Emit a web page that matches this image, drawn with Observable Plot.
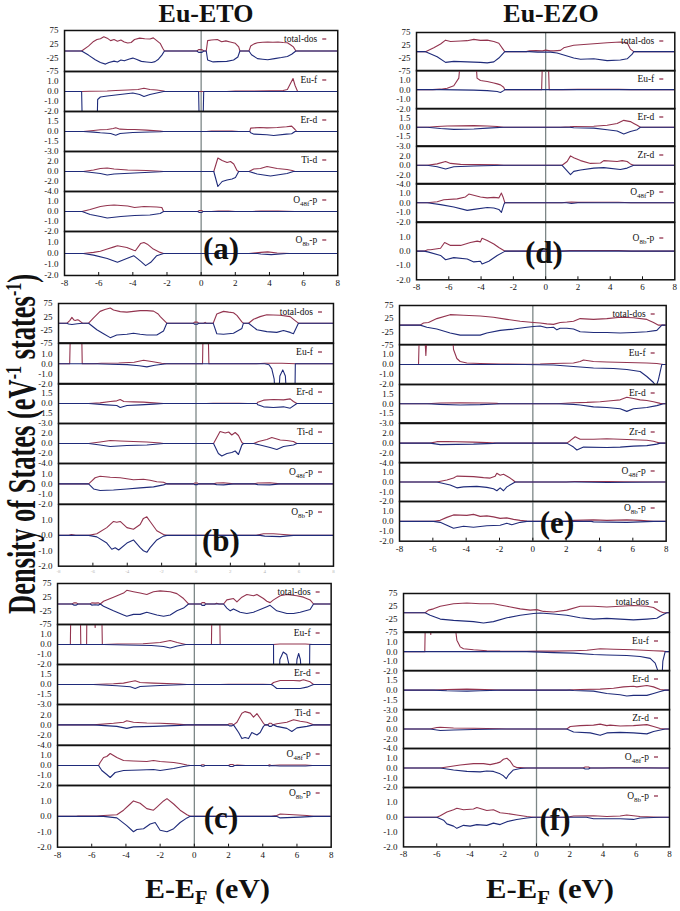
<!DOCTYPE html>
<html><head><meta charset="utf-8">
<script src="https://cdn.jsdelivr.net/npm/d3@7"></script>
<script src="https://cdn.jsdelivr.net/npm/@observablehq/plot@0.6"></script>
<style>
html,body{margin:0;padding:0;background:#fff;}
#chart{position:relative;width:680px;height:911px;overflow:hidden;background:#fff;}
#chart svg{position:absolute;}
</style></head><body><div id="chart"></div>
<script>
// ---------- tick values / categories ----------
const energyTicks = [-8,-6,-4,-2,0,2,4,6,8];
const innerTicks = [-6,-4,-2,0,2,4,6];
const yDomains = [[-75,75],[-2,2],[-3,3],[-4,4],[-2,2],[-2,2]];
const yTicks = [[75,25,-25,-75],[1,0,-1,-2],[1.5,0,-1.5,-3],[2,0,-2,-4],[1,0,-1,-2],[1,0,-1,-2]];
const etoNames = ["total-dos","Eu-f","Er-d","Ti-d","O|48f|-p","O|8b|-p"];
const ezoNames = ["total-dos","Eu-f","Er-d","Zr-d","O|48f|-p","O|8b|-p"];
const panelLetters = ["(a)","(b)","(c)","(d)","(e)","(f)"];

// ---------- panel (a) ----------
const aTotUp=[[-7.0,0],[-6.6,18],[-6.3,35],[-6.1,42],[-5.9,45],[-5.7,52],[-5.5,47],[-5.3,38],[-5.1,42],[-4.9,36],[-4.7,40],[-4.5,33],[-4.3,29],[-4.1,31],[-3.9,42],[-3.6,47],[-3.3,45],[-3.0,44],[-2.8,48],[-2.6,38],[-2.4,28],[-2.25,10],[-2.15,0],[-0.25,0],[-0.15,5],[0.05,5],[0.15,0],[0.3,0],[0.38,38],[0.6,40],[0.95,42],[1.2,34],[1.45,37],[1.7,33],[2.0,28],[2.2,15],[2.27,0],[2.8,0],[2.9,18],[3.1,26],[3.3,30],[3.6,32],[3.9,33],[4.2,32],[4.5,33],[4.8,31],[5.05,30],[5.25,22],[5.4,15],[5.55,0]];
const aTotDn=[[-7.0,0],[-6.6,-15],[-6.2,-32],[-5.9,-42],[-5.6,-48],[-5.4,-42],[-5.1,-37],[-4.9,-40],[-4.7,-33],[-4.5,-36],[-4.2,-29],[-4.0,-26],[-3.8,-30],[-3.5,-38],[-3.2,-40],[-2.9,-42],[-2.7,-39],[-2.5,-30],[-2.3,-15],[-2.15,0],[-0.25,0],[-0.15,-5],[0.05,-5],[0.15,0],[0.3,0],[0.38,-33],[0.7,-40],[1.0,-39],[1.5,-38],[1.9,-33],[2.15,-22],[2.27,0],[2.8,0],[2.95,-14],[3.3,-28],[3.6,-30],[3.9,-32],[4.3,-28],[4.7,-24],[5.05,-20],[5.3,-12],[5.55,0]];
const aEuUp=[[-7.0,0],[-6.5,0.03],[-5.5,0.05],[-5.0,0.1],[-4.3,0.15],[-3.7,0.2],[-3.35,0.32],[-3.0,0.2],[-2.6,0.15],[-2.2,0.05],[-2.1,0],[1.5,0],[2.0,0.05],[3.0,0.05],[4.0,0.08],[4.8,0.1],[5.05,0.2],[5.23,0.8],[5.38,1.3],[5.5,0.6],[5.65,0]];
const aEuDn=[[-7.0,0],[-6.95,-4],[-6.1,-4],[-6.06,-0.8],[-5.9,-0.55],[-5.5,-0.45],[-5.0,-0.35],[-4.5,-0.25],[-4.0,-0.15],[-3.6,-0.3],[-3.35,-0.5],[-3.0,-0.3],[-2.6,-0.15],[-2.2,0],[-0.15,0],[-0.1,-4],[0.1,-4],[0.15,0]];
const aErUp=[[-6.9,0],[-6.3,0.15],[-5.9,0.25],[-5.5,0.3],[-5.15,0.45],[-5.0,0.55],[-4.75,0.35],[-4.3,0.3],[-3.9,0.3],[-3.2,0.2],[-2.4,0.05],[-2.2,0],[0.3,0],[0.6,0.05],[1.8,0.05],[2.2,0],[2.85,0],[2.9,0.5],[3.45,0.6],[3.85,0.55],[4.45,0.6],[5.0,0.7],[5.3,0.8],[5.5,0.3],[5.6,0]];
const aErDn=[[-6.9,0],[-6.3,-0.1],[-5.9,-0.2],[-5.3,-0.3],[-5.0,-0.55],[-4.75,-0.3],[-4.0,-0.15],[-3.0,-0.08],[-2.4,-0.05],[-2.2,0],[2.85,0],[2.9,-0.2],[3.1,-0.4],[3.85,-0.5],[4.25,-0.6],[5.0,-0.4],[5.3,-0.35],[5.5,0]];
const aTiUp=[[-6.9,0],[-6.3,0.3],[-5.9,0.6],[-5.5,0.7],[-5.1,0.5],[-4.3,0.3],[-3.2,0.2],[-2.4,0.05],[-2.2,0],[0.74,0],[0.98,2.7],[1.23,2.2],[1.52,1.8],[1.72,2.0],[1.91,1.5],[2.1,0.2],[2.2,0],[2.8,0],[3.08,0.5],[3.47,0.6],[3.86,1.0],[4.45,0.6],[5.03,0.4],[5.33,0.2],[5.5,0]];
const aTiDn=[[-6.9,0],[-5.9,-0.4],[-5.5,-0.7],[-5.1,-0.5],[-3.9,-0.3],[-2.4,-0.05],[-2.2,0],[0.74,0],[0.98,-3.0],[1.23,-2.0],[1.52,-1.7],[1.81,-1.5],[2.01,-1.2],[2.2,0],[2.8,0],[3.28,-0.5],[3.86,-0.8],[4.06,-0.9],[4.64,-0.6],[5.03,-0.4],[5.4,0]];
const aO48Up=[[-6.97,0],[-6.5,0.2],[-5.9,0.5],[-5.5,0.6],[-5.1,0.65],[-4.3,0.55],[-3.9,0.4],[-3.35,0.5],[-2.6,0.45],[-2.3,0.4],[-2.2,0],[-0.2,0],[-0.1,0.1],[0.05,0.1],[0.1,0],[0.6,0],[1.0,0.05],[1.6,0.05],[2.0,0],[3.0,0],[3.5,0.05],[4.5,0.05],[5.5,0]];
const aO48Dn=[[-6.97,0],[-6.5,-0.3],[-5.9,-0.5],[-5.5,-0.65],[-4.7,-0.5],[-3.9,-0.4],[-3.0,-0.35],[-2.4,-0.2],[-2.2,0],[-0.2,0],[-0.1,-0.1],[0.05,-0.1],[0.1,0]];
const aO8Up=[[-6.9,0],[-6.3,0.1],[-5.9,0.2],[-5.5,0.4],[-5.1,0.6],[-4.9,0.7],[-4.35,0.55],[-3.95,0.3],[-3.85,0.25],[-3.55,0.9],[-3.35,1.0],[-3.15,0.85],[-2.8,0.4],[-2.4,0.1],[-2.2,0],[2.8,0],[3.5,0.1],[3.9,0.15],[4.45,0.05],[5.2,0]];
const aO8Dn=[[-6.9,0],[-6.3,-0.15],[-5.5,-0.45],[-4.9,-0.8],[-4.5,-0.55],[-3.95,-0.2],[-3.55,-0.7],[-3.25,-1.1],[-2.95,-0.8],[-2.6,-0.2],[-2.2,0],[3.3,0],[3.5,-0.05],[4.1,-0.1],[5.0,0]];

// ---------- panel (b) ----------
const bTotUp=[[-7.5,0],[-7.35,10],[-7.22,22],[-7.1,12],[-7.03,10],[-6.9,13],[-6.84,12],[-6.7,5],[-6.6,0],[-6.25,0],[-5.96,20],[-5.58,45],[-5.3,52],[-4.99,58],[-4.8,50],[-4.41,44],[-4.02,42],[-3.64,45],[-3.25,48],[-2.86,48],[-2.47,46],[-2.2,35],[-2.08,25],[-1.7,0],[-0.15,0],[-0.08,4],[0.08,4],[0.15,0],[0.45,0],[0.53,3],[0.6,0],[1.0,0],[1.21,35],[1.6,45],[1.9,42],[2.18,40],[2.38,30],[2.67,5],[2.76,0],[3.06,0],[3.35,15],[3.73,25],[4.12,32],[4.5,31],[4.9,30],[5.48,25],[5.77,10],[5.96,0]];
const bTotDn=[[-7.5,0],[-7.42,-3],[-7.22,-5],[-6.9,-2],[-6.6,0],[-6.25,0],[-5.77,-25],[-5.38,-40],[-4.99,-55],[-4.61,-45],[-4.02,-42],[-3.64,-38],[-3.25,-42],[-2.86,-45],[-2.28,-45],[-1.89,-30],[-1.7,0],[-0.15,0],[-0.08,-4],[0.08,-4],[0.15,0],[1.0,0],[1.21,-40],[1.6,-42],[2.18,-38],[2.67,-20],[2.76,0],[3.06,0],[3.54,-25],[4.12,-32],[4.7,-35],[5.09,-28],[5.48,-35],[5.67,-40],[5.96,0]];
const bEuUp=[[-7.35,0],[-7.3,4],[-6.66,4],[-6.62,0],[-5.96,0],[-5.5,0.05],[-4.5,0.08],[-3.6,0.15],[-3.05,0.35],[-2.5,0.2],[-2.0,0.05],[-1.7,0],[0.38,0],[0.42,4],[0.7,4],[0.75,0],[3.5,0],[4.0,0.05],[5.0,0.05],[5.8,0]];
const bEuDn=[[-5.96,0],[-5.0,-0.05],[-4.0,-0.08],[-3.3,-0.2],[-2.86,-0.3],[-2.4,-0.15],[-1.7,0],[4.0,0],[4.25,-0.1],[4.41,-0.5],[4.55,-1.5],[4.62,-4],[4.78,-4],[4.88,-1.2],[5.05,-0.6],[5.2,-1.2],[5.3,-4],[5.75,-4],[5.78,0]];
const bErUp=[[-6.25,0],[-5.58,0.1],[-4.99,0.3],[-4.61,0.4],[-4.41,0.6],[-4.2,0.3],[-3.64,0.25],[-3.05,0.2],[-2.47,0.1],[-1.89,0],[0.6,0],[1.0,0.03],[2.5,0.03],[3.0,0],[3.54,0],[3.6,0.2],[3.93,0.5],[4.5,0.6],[5.09,0.55],[5.48,0.7],[5.67,0.3],[5.87,0]];
const bErDn=[[-6.25,0],[-5.2,-0.2],[-4.61,-0.3],[-4.41,-0.6],[-4.02,-0.3],[-3.25,-0.2],[-2.47,-0.1],[-1.89,0],[3.54,0],[3.6,-0.2],[3.93,-0.5],[4.5,-0.6],[5.09,-0.5],[5.48,-0.7],[5.87,0]];
const bTiUp=[[-6.25,0],[-5.58,0.3],[-4.99,0.6],[-4.41,0.5],[-3.64,0.4],[-2.86,0.3],[-2.08,0.1],[-1.89,0],[1.02,0],[1.21,1.2],[1.4,2.4],[1.7,2.1],[1.9,2.3],[2.08,1.7],[2.28,2.2],[2.47,1.6],[2.67,0.2],[2.76,0],[3.35,0],[3.64,0.4],[4.12,0.8],[4.41,1.2],[4.9,0.7],[5.28,0.6],[5.67,0.4],[5.87,0]];
const bTiDn=[[-6.25,0],[-5.58,-0.3],[-4.99,-0.6],[-4.02,-0.4],[-2.86,-0.3],[-1.89,0],[1.02,0],[1.3,-2.0],[1.5,-2.5],[1.8,-2.0],[2.08,-1.8],[2.28,-1.5],[2.47,-2.2],[2.67,-0.3],[2.76,0],[3.35,0],[3.73,-0.3],[4.31,-0.8],[4.7,-1.2],[5.09,-0.6],[5.67,-0.3],[5.87,0]];
const bO48Up=[[-6.25,0],[-6.06,0.3],[-5.87,0.6],[-5.58,0.75],[-4.99,0.65],[-4.41,0.6],[-3.64,0.4],[-3.06,0.45],[-2.67,0.35],[-2.28,0.2],[-1.89,0.15],[-1.7,0],[-0.15,0],[-0.08,0.08],[0.08,0.08],[0.15,0],[1.0,0],[1.2,0.08],[1.6,0.1],[2.2,0],[3.35,0],[3.6,0.08],[4.3,0.1],[4.9,0]];
const bO48Dn=[[-6.25,0],[-5.96,-0.5],[-5.58,-0.65],[-4.8,-0.6],[-4.02,-0.5],[-3.25,-0.4],[-2.47,-0.3],[-1.89,-0.1],[-1.7,0],[-0.15,0],[-0.08,-0.08],[0.08,-0.08],[0.15,0],[1.0,0],[1.2,-0.08],[1.6,-0.1],[2.2,0],[3.35,0],[3.6,-0.08],[4.3,-0.1],[4.9,0]];
const bO8Up=[[-7.4,0],[-7.25,0.05],[-7.0,0],[-6.25,0],[-5.77,0.1],[-5.19,0.5],[-4.8,0.9],[-4.61,0.85],[-4.41,0.9],[-4.02,0.5],[-3.64,0.4],[-3.25,0.7],[-3.06,1.1],[-2.86,1.2],[-2.67,0.9],[-2.28,0.3],[-1.89,0.05],[-1.7,0],[3.5,0],[3.93,0.1],[4.5,0.1],[5.09,0.05],[5.67,0]];
const bO8Dn=[[-6.25,0],[-5.77,-0.1],[-5.19,-0.5],[-4.9,-0.9],[-4.7,-0.8],[-4.5,-0.95],[-4.02,-0.5],[-3.64,-0.3],[-3.25,-0.8],[-3.06,-1.0],[-2.86,-1.1],[-2.67,-0.8],[-2.28,-0.3],[-1.89,-0.05],[-1.7,0],[3.73,0],[4.0,-0.05],[4.9,-0.08],[5.67,0]];

// ---------- panel (c) ----------
const cTotUp=[[-7.15,0],[-7.05,4],[-6.9,4],[-6.8,0],[-6.1,0],[-6.0,4],[-5.8,3],[-5.6,4],[-5.5,0],[-5.31,10],[-4.73,25],[-4.14,40],[-3.95,50],[-3.56,45],[-3.17,40],[-2.78,35],[-2.39,45],[-2.0,48],[-1.41,45],[-1.02,38],[-0.63,20],[-0.34,0],[0.38,0],[0.45,5],[0.6,5],[0.65,0],[1.2,0],[1.3,3],[1.45,0],[1.71,0],[1.9,15],[2.29,20],[2.49,8],[2.78,25],[3.07,35],[3.46,30],[3.66,35],[4.04,20],[4.24,10],[4.43,5],[4.63,15],[5.02,30],[5.41,35],[6.0,30],[6.38,25],[6.77,15],[6.97,0]];
const cTotDn=[[-7.15,0],[-7.05,-4],[-6.9,-4],[-6.8,0],[-6.1,0],[-6.0,-4],[-5.8,-3],[-5.6,-4],[-5.5,0],[-5.31,-8],[-4.73,-25],[-4.14,-40],[-3.95,-45],[-3.56,-38],[-3.17,-38],[-2.78,-30],[-2.19,-40],[-1.8,-45],[-1.41,-40],[-1.02,-25],[-0.63,-15],[-0.34,0],[0.38,0],[0.45,-5],[0.6,-5],[0.65,0],[1.71,0],[1.9,-15],[2.1,-25],[2.29,-18],[2.68,-30],[3.07,-35],[3.46,-30],[3.85,-20],[4.24,-10],[4.43,-5],[4.82,-25],[5.41,-35],[5.8,-35],[6.19,-30],[6.77,-20],[6.97,0]];
const cEuUp=[[-7.25,0],[-7.22,4],[-6.67,4],[-6.64,0],[-6.3,0],[-6.28,4],[-5.85,4],[-5.8,1.7],[-5.75,4],[-5.42,4],[-5.38,0],[-5.31,0],[-4.5,0.05],[-3.0,0.08],[-2.0,0.2],[-1.41,0.4],[-1.0,0.2],[-0.5,0],[1.0,0],[1.03,4],[1.48,4],[1.51,0],[4.6,0],[5.0,0.05],[6.5,0.05],[6.9,0]];
const cEuDn=[[-5.31,0],[-4.0,-0.05],[-2.5,-0.1],[-1.8,-0.2],[-1.41,-0.35],[-1.0,-0.15],[-0.5,0],[4.63,0],[4.64,-4],[4.95,-4],[5.0,-1.5],[5.2,-0.75],[5.4,-1.0],[5.6,-2.5],[5.75,-4],[5.92,-4],[6.0,-1.5],[6.1,-0.9],[6.2,-1.5],[6.3,-4],[6.73,-4],[6.75,0]];
const cErUp=[[-5.9,0],[-4.73,0.1],[-4.14,0.2],[-3.75,0.4],[-3.46,0.55],[-3.17,0.3],[-2.39,0.2],[-1.21,0.1],[-0.83,0.05],[-0.43,0],[1.5,0],[2.0,0.03],[4.0,0.03],[4.5,0],[4.63,0.3],[5.02,0.6],[5.8,0.6],[6.19,0.55],[6.38,0.7],[6.77,0.4],[6.97,0]];
const cErDn=[[-5.9,0],[-4.53,-0.2],[-3.75,-0.35],[-3.46,-0.6],[-3.17,-0.3],[-2.0,-0.15],[-0.83,-0.05],[-0.43,0],[4.5,0],[4.63,-0.2],[4.82,-0.6],[5.41,-0.6],[6.19,-0.6],[6.58,-0.4],[6.97,0]];
const cTiUp=[[-5.9,0],[-4.73,0.3],[-4.14,0.5],[-3.95,0.8],[-3.56,0.5],[-2.78,0.35],[-2.0,0.3],[-1.21,0.2],[-0.83,0.1],[-0.43,0],[1.95,0],[2.05,0.2],[2.2,0.2],[2.29,0],[2.49,0.5],[2.78,2.3],[2.97,2.6],[3.27,2.3],[3.46,1.5],[3.66,2.2],[3.85,1.3],[4.04,0.3],[4.14,0],[4.3,0],[4.38,0.3],[4.5,0.3],[4.6,0],[4.82,0.2],[5.41,0.5],[5.8,1.0],[6.19,0.7],[6.58,0.5],[6.97,0]];
const cTiDn=[[-5.9,0],[-4.53,-0.3],[-3.95,-0.7],[-3.56,-0.4],[-2.39,-0.3],[-0.83,-0.1],[-0.43,0],[1.95,0],[2.05,-0.2],[2.2,-0.2],[2.29,0],[2.59,-1.5],[2.78,-2.7],[2.97,-2.5],[3.17,-2.7],[3.36,-1.5],[3.66,-2.0],[3.85,-1.5],[4.04,-0.3],[4.14,0],[4.3,0],[4.38,-0.3],[4.5,-0.3],[4.6,0],[4.82,-0.3],[5.41,-0.7],[5.7,-1.3],[6.0,-0.6],[6.58,-0.3],[6.97,0]];
const cO48Up=[[-5.6,0],[-5.51,0.3],[-5.31,0.8],[-5.12,0.9],[-4.92,1.2],[-4.53,0.8],[-4.14,0.5],[-3.56,0.45],[-2.78,0.4],[-2.39,0.5],[-2.0,0.4],[-1.21,0.3],[-0.83,0.2],[-0.43,0.05],[-0.24,0],[0.38,0],[0.45,0.08],[0.55,0.08],[0.6,0],[2.0,0],[2.1,0.1],[2.25,0.1],[2.35,0],[2.5,0.05],[3.0,0],[4.3,0],[4.4,0.06],[4.5,0],[5.0,0.05],[6.5,0.05],[6.9,0]];
const cO48Dn=[[-5.6,0],[-5.41,-0.5],[-5.12,-0.9],[-4.92,-1.2],[-4.63,-0.7],[-4.14,-0.5],[-3.17,-0.45],[-2.39,-0.4],[-2.0,-0.5],[-1.21,-0.3],[-0.63,-0.1],[-0.24,0],[0.38,0],[0.45,-0.08],[0.55,-0.08],[0.6,0],[2.0,0],[2.1,-0.1],[2.25,-0.1],[2.35,0],[4.3,0],[4.4,-0.06],[4.5,0],[5.0,-0.05],[6.5,-0.05],[6.9,0]];
const cO8Up=[[-6.9,0],[-6.8,0.02],[-5.7,0.02],[-5.31,0.05],[-4.53,0.1],[-4.14,0.4],[-3.75,0.8],[-3.56,1.0],[-3.17,0.85],[-2.78,0.5],[-2.39,0.4],[-2.19,0.6],[-1.8,1.0],[-1.6,1.15],[-1.21,0.8],[-0.83,0.4],[-0.43,0.1],[-0.24,0],[4.5,0],[4.82,0.05],[5.02,0.15],[5.8,0.1],[6.58,0.05],[6.97,0]];
const cO8Dn=[[-5.31,0],[-4.53,-0.1],[-3.95,-0.6],[-3.56,-1.0],[-3.36,-0.85],[-2.97,-0.8],[-2.58,-0.5],[-2.29,-0.4],[-2.0,-0.9],[-1.6,-1.0],[-1.21,-0.8],[-0.83,-0.4],[-0.43,-0.1],[-0.24,0],[4.8,0],[5.02,-0.1],[6.19,-0.05],[6.97,0]];

// ---------- panel (d) ----------
const dTotUp=[[-7.44,0],[-6.93,15],[-6.51,30],[-6.2,45],[-5.89,40],[-5.27,42],[-4.86,43],[-4.45,48],[-4.04,44],[-3.62,45],[-3.21,40],[-2.9,33],[-2.59,5],[-2.53,0],[-1.2,0],[-1.0,3],[-0.6,4],[-0.2,3],[0.0,6],[0.3,3],[0.51,3],[0.71,4],[0.92,5],[1.12,15],[1.74,25],[2.78,30],[3.81,35],[4.63,38],[5.05,35],[5.25,10],[5.46,0]];
const dTotDn=[[-7.44,0],[-6.72,-20],[-6.2,-42],[-5.69,-38],[-4.86,-40],[-4.04,-42],[-3.62,-44],[-3.21,-40],[-2.9,-25],[-2.53,0],[-1.0,0],[-0.5,-2],[0.3,-2],[0.71,-5],[1.74,-25],[2.16,-30],[2.98,-28],[3.81,-35],[4.63,-33],[5.05,-28],[5.36,-10],[5.46,0]];
const dEuUp=[[-7.0,0],[-6.5,0.05],[-6.1,0.15],[-5.69,0.4],[-5.38,1.2],[-5.23,4],[-4.35,4],[-4.25,1.2],[-4.04,0.95],[-3.62,0.85],[-3.21,0.7],[-3.0,0.6],[-2.8,0.5],[-2.6,0.25],[-2.53,0],[-0.25,0],[-0.18,4],[0.15,4],[0.22,0],[1.0,0],[2.0,0.03],[4.5,0.03],[5.3,0]];
const dEuDn=[[-6.5,0],[-4.45,-0.05],[-3.62,-0.1],[-3.0,-0.2],[-2.8,-0.3],[-2.6,-0.1],[-2.53,0]];
const dErUp=[[-7.34,0],[-6.72,0.1],[-6.1,0.2],[-4.45,0.25],[-3.62,0.2],[-3.0,0.1],[-2.59,0],[0.92,0],[1.5,0.05],[1.74,0.1],[2.98,0.15],[3.81,0.3],[4.43,0.6],[4.84,1.1],[5.25,0.9],[5.46,0.6],[5.67,0.3],[5.87,0]];
const dErDn=[[-7.34,0],[-6.51,-0.2],[-5.69,-0.35],[-4.45,-0.3],[-3.62,-0.15],[-2.59,0],[1.5,0],[1.74,-0.1],[2.98,-0.15],[3.81,-0.4],[4.43,-0.6],[4.84,-1.1],[5.25,-0.7],[5.67,-0.4],[5.87,0]];
const dZrUp=[[-7.34,0],[-6.72,0.3],[-6.2,0.8],[-5.89,0.4],[-5.27,0.2],[-3.0,0.1],[-2.59,0],[1.02,0],[1.33,0.8],[1.54,2.0],[1.74,1.6],[2.16,1.0],[2.78,0.4],[3.4,0.5],[3.6,1.0],[4.43,0.8],[4.74,1.0],[5.05,0.8],[5.25,0.3],[5.46,0]];
const dZrDn=[[-7.34,0],[-6.72,-0.3],[-6.2,-0.8],[-5.69,-0.3],[-4.45,-0.15],[-2.59,0],[1.02,0],[1.54,-2.0],[1.74,-1.3],[2.16,-1.0],[2.98,-0.6],[3.6,-0.5],[4.63,-0.9],[5.05,-0.6],[5.46,0]];
const dO48Up=[[-7.34,0],[-6.72,0.1],[-6.31,0.3],[-5.48,0.4],[-4.97,0.6],[-4.76,0.9],[-4.04,0.6],[-3.62,0.5],[-3.21,0.55],[-2.9,0.5],[-2.74,1.0],[-2.64,0.6],[-2.53,0],[1.0,0],[1.3,0.05],[1.6,0.08],[2.0,0.03],[3.5,0.05],[4.5,0.05],[5.3,0]];
const dO48Dn=[[-7.34,0],[-6.51,-0.2],[-5.69,-0.45],[-4.86,-0.8],[-4.45,-0.7],[-3.62,-0.5],[-3.21,-0.55],[-2.9,-0.7],[-2.74,-1.0],[-2.59,-0.2],[-2.53,0],[1.3,0],[1.6,-0.08],[2.0,0]];
const dO8Up=[[-7.55,0],[-7.3,0.1],[-7.13,0.1],[-6.51,0.2],[-6.26,0.6],[-5.89,0.4],[-5.27,0.4],[-4.66,0.6],[-4.24,0.7],[-4.04,0.65],[-3.94,0.9],[-3.62,0.75],[-3.21,0.5],[-2.9,0.25],[-2.59,0.05],[-2.53,0],[1.0,0],[1.5,0.05],[3.0,0.05],[4.5,0.05],[5.3,0]];
const dO8Dn=[[-7.55,0],[-7.3,-0.05],[-6.51,-0.3],[-6.2,-0.6],[-5.69,-0.45],[-4.86,-0.55],[-4.45,-0.75],[-4.04,-0.7],[-3.94,-0.9],[-3.52,-0.7],[-3.0,-0.3],[-2.59,-0.05],[-2.53,0]];

// ---------- panel (e) ----------
const eTotUp=[[-6.76,0],[-6.56,8],[-6.26,10],[-5.76,25],[-4.96,40],[-4.16,38],[-3.16,35],[-2.36,30],[-1.56,22],[-0.76,15],[0.04,10],[0.44,8],[0.84,5],[1.24,3],[1.64,10],[2.04,12],[2.44,15],[2.84,25],[3.64,22],[4.44,25],[5.24,30],[6.04,28],[6.84,22],[7.24,10],[7.54,0]];
const eTotDn=[[-6.76,0],[-6.36,-8],[-5.76,-15],[-4.96,-30],[-4.36,-38],[-3.16,-38],[-2.76,-30],[-1.96,-20],[-1.16,-15],[-0.36,-8],[0.04,-5],[0.44,-3],[0.84,-10],[1.24,-8],[1.44,-18],[1.64,-12],[2.04,-12],[2.44,-15],[2.84,-25],[3.64,-28],[4.44,-28],[5.24,-30],[6.04,-28],[6.84,-25],[7.44,-20],[7.74,0]];
const eEuUp=[[-6.86,0],[-6.8,4],[-6.52,4],[-6.42,0.9],[-6.32,4],[-4.86,4],[-4.76,1.5],[-4.56,0.6],[-4.36,0.3],[-3.96,0.15],[-3.16,0.1],[-1.96,0.05],[-0.36,0.03],[0.44,0.05],[1.24,0.1],[2.44,0.15],[2.84,0.3],[3.04,0.45],[3.64,0.3],[4.44,0.25],[5.64,0.2],[6.84,0.15],[7.44,0.1],[7.84,0]];
const eEuDn=[[-0.5,0],[1.24,-0.05],[2.44,-0.2],[3.64,-0.35],[4.84,-0.4],[5.64,-0.5],[6.44,-0.7],[6.84,-1.2],[7.24,-1.8],[7.4,-2.2],[7.54,-1.5],[7.74,0]];
const eErUp=[[-6.36,0],[-5.56,0.1],[-4.36,0.15],[-2.76,0.1],[-2.16,0.05],[-1.96,0],[1.44,0],[2.44,0.15],[3.24,0.2],[4.04,0.3],[4.84,0.5],[5.24,0.6],[5.64,1.0],[6.04,0.8],[6.44,0.6],[6.84,0.5],[7.24,0.3],[7.64,0.05],[7.84,0]];
const eErDn=[[-6.36,0],[-5.56,-0.1],[-4.36,-0.2],[-3.16,-0.15],[-2.16,-0.05],[-1.96,0],[1.44,0],[2.44,-0.1],[2.84,-0.2],[3.64,-0.5],[4.44,-0.6],[5.24,-0.8],[5.64,-1.2],[6.04,-0.8],[6.84,-0.6],[7.44,-0.3],[7.84,0]];
const eZrUp=[[-6.16,0],[-5.76,0.3],[-5.16,0.35],[-3.56,0.2],[-2.76,0.1],[-2.16,0],[2.04,0],[2.24,0.5],[2.54,1.3],[2.84,0.8],[3.64,0.8],[4.44,0.9],[5.24,0.8],[6.04,0.7],[6.84,0.6],[7.24,0.4],[7.44,0.2],[7.64,0]];
const eZrDn=[[-6.16,0],[-5.56,-0.3],[-3.56,-0.2],[-2.36,-0.05],[-2.16,0],[2.04,0],[2.44,-0.8],[2.64,-1.4],[3.04,-0.8],[4.44,-0.9],[5.24,-0.8],[6.04,-0.6],[6.84,-0.5],[7.44,-0.2],[7.64,0]];
const eO48Up=[[-5.76,0],[-5.16,0.2],[-4.76,0.4],[-4.56,0.6],[-3.56,0.55],[-2.96,0.45],[-2.56,0.4],[-2.26,0.6],[-2.16,0.9],[-1.96,0.7],[-1.76,0.8],[-1.36,0.4],[-1.16,0.15],[-1.06,0],[2.0,0],[2.5,0.05],[4.5,0.05],[5.5,0.03],[7.5,0]];
const eO48Dn=[[-5.76,0],[-4.96,-0.3],[-4.56,-0.6],[-4.16,-0.5],[-3.36,-0.45],[-2.76,-0.55],[-2.36,-0.7],[-2.16,-0.9],[-1.96,-0.6],[-1.76,-0.9],[-1.56,-0.5],[-1.16,-0.1],[-1.06,0],[2.5,0],[4.5,-0.05],[7.5,0]];
const eO8Up=[[-5.96,0],[-5.56,0.1],[-5.16,0.4],[-4.76,0.65],[-3.96,0.6],[-3.56,0.7],[-3.16,0.5],[-2.76,0.55],[-2.36,0.45],[-1.96,0.3],[-1.56,0.35],[-1.16,0.2],[-0.76,0.1],[-0.36,0.03],[0.0,0],[2.0,0],[2.44,0.1],[3.64,0.15],[4.44,0.1],[5.64,0.15],[6.44,0.1],[7.24,0]];
const eO8Dn=[[-5.96,0],[-5.56,-0.1],[-5.16,-0.4],[-4.76,-0.7],[-4.16,-0.5],[-3.56,-0.6],[-2.76,-0.45],[-1.96,-0.4],[-1.56,-0.2],[-1.26,-0.35],[-0.76,-0.1],[-0.36,0],[3.5,0],[3.64,-0.05],[5.64,-0.1],[7.24,0]];

// ---------- panel (f) ----------
const fTotUp=[[-6.7,0],[-6.5,10],[-6.2,15],[-5.79,25],[-4.99,35],[-4.19,38],[-3.39,35],[-2.59,35],[-1.78,25],[-0.98,15],[-0.38,10],[0.02,12],[0.42,5],[1.02,3],[1.82,10],[2.63,25],[3.43,25],[4.23,22],[5.03,25],[5.83,28],[6.64,25],[7.04,20],[7.44,5],[7.64,0]];
const fTotDn=[[-6.7,0],[-6.4,-10],[-5.79,-25],[-4.99,-30],[-3.79,-35],[-3.19,-40],[-2.59,-35],[-1.78,-20],[-0.98,-10],[-0.18,-3],[0.22,-1],[0.42,-2],[1.02,-5],[1.82,-10],[2.63,-20],[3.43,-25],[4.23,-22],[5.03,-25],[5.83,-28],[6.64,-25],[7.24,-22],[7.54,-10],[7.84,0]];
const fEuUp=[[-6.72,0],[-6.68,4],[-6.4,4],[-6.36,1.8],[-6.32,4],[-4.99,4],[-4.79,1.2],[-4.59,0.5],[-4.39,0.3],[-3.79,0.2],[-2.99,0.1],[-2.19,0.05],[-0.58,0.03],[0.22,0.05],[1.02,0.05],[2.23,0.1],[3.03,0.15],[3.83,0.3],[4.63,0.25],[5.83,0.2],[7.04,0.1],[7.64,0.05],[7.84,0]];
const fEuDn=[[-0.58,0],[1.02,-0.1],[2.23,-0.15],[3.43,-0.3],[4.23,-0.35],[5.43,-0.4],[6.23,-0.5],[6.84,-0.7],[7.14,-1.2],[7.4,-2.5],[7.54,-3],[7.6,-1],[7.74,0]];
const fErUp=[[-6.2,0],[-5.39,0.1],[-4.19,0.15],[-2.59,0.05],[-2.19,0],[1.82,0],[2.63,0.1],[3.83,0.15],[4.63,0.3],[5.23,0.5],[5.83,0.6],[6.03,0.5],[6.64,0.7],[7.04,0.5],[7.44,0.1],[7.74,0]];
const fErDn=[[-6.2,0],[-5.39,-0.1],[-4.19,-0.15],[-3.39,-0.1],[-2.19,0],[2.0,0],[2.23,-0.05],[3.43,-0.15],[4.23,-0.5],[5.03,-0.7],[5.43,-0.9],[5.83,-0.8],[6.64,-0.8],[7.04,-0.5],[7.44,-0.2],[7.74,0]];
const fZrUp=[[-6.4,0],[-6.0,0.3],[-5.79,0.35],[-4.99,0.2],[-3.79,0.15],[-2.19,0.05],[-1.78,0],[1.82,0],[2.03,0.5],[2.63,0.7],[3.43,0.8],[3.83,1.0],[4.23,0.7],[4.43,0.8],[5.03,0.6],[5.83,0.7],[6.64,0.9],[7.04,0.5],[7.44,0.1],[7.74,0]];
const fZrDn=[[-6.4,0],[-5.79,-0.3],[-4.99,-0.2],[-3.79,-0.1],[-1.78,0],[1.82,0],[2.23,-0.6],[3.23,-0.8],[3.83,-1.3],[4.23,-0.8],[5.03,-0.7],[5.83,-0.8],[6.64,-1.0],[7.04,-0.5],[7.74,0]];
const fO48Up=[[-5.79,0],[-5.19,0.15],[-4.59,0.3],[-3.79,0.45],[-3.19,0.45],[-2.79,0.35],[-2.39,0.5],[-2.19,0.6],[-1.99,0.9],[-1.78,1.0],[-1.58,0.7],[-1.39,0.2],[-1.19,0.05],[-0.98,0.05],[-0.58,0],[2.8,0],[2.93,0.1],[3.13,0.1],[3.23,0],[4.0,0],[4.5,0.03],[6.5,0.03],[7.5,0]];
const fO48Dn=[[-5.79,0],[-4.99,-0.2],[-4.19,-0.35],[-3.39,-0.4],[-2.99,-0.3],[-2.59,-0.35],[-2.19,-0.6],[-1.99,-0.8],[-1.82,-1.1],[-1.68,-0.7],[-1.39,-0.2],[-0.98,-0.05],[-0.58,0],[2.8,0],[2.93,-0.1],[3.13,-0.1],[3.23,0]];
const fO8Up=[[-6.0,0],[-5.79,0.1],[-5.39,0.35],[-4.99,0.5],[-4.79,0.6],[-4.39,0.5],[-3.79,0.55],[-3.59,0.65],[-2.99,0.45],[-2.59,0.5],[-2.19,0.3],[-1.78,0.25],[-1.19,0.15],[-0.58,0.05],[-0.18,0],[1.82,0],[2.23,0.08],[3.43,0.1],[4.23,0.05],[5.03,0.08],[5.43,0.15],[6.23,0.05],[7.44,0]];
const fO8Dn=[[-6.0,0],[-5.59,-0.2],[-5.39,-0.45],[-4.99,-0.6],[-4.79,-0.75],[-4.39,-0.55],[-3.99,-0.6],[-3.59,-0.5],[-2.99,-0.55],[-2.59,-0.4],[-2.19,-0.5],[-1.78,-0.3],[-1.19,-0.15],[-0.58,-0.05],[-0.18,0],[3.0,0],[3.43,-0.1],[5.03,-0.1],[5.83,-0.15],[6.23,-0.05],[7.44,0]];

// ---------- layout (pixel placement of each panel) ----------
const panelLayout = [
  {curves:[[aTotUp,aTotDn],[aEuUp,aEuDn],[aErUp,aErDn],[aTiUp,aTiDn],[aO48Up,aO48Dn],[aO8Up,aO8Dn]], names:etoNames,
   x0:64, x1:337.3, yb:[30,71,111,151,191,231,275], lx:221, ly:259, key6:9},
  {curves:[[bTotUp,bTotDn],[bEuUp,bEuDn],[bErUp,bErDn],[bTiUp,bTiDn],[bO48Up,bO48Dn],[bO8Up,bO8Dn]], names:etoNames,
   x0:58.3, x1:333.3, yb:[303.3,342.7,383.3,423.3,463.3,504,565.7], lx:221, ly:551, key6:8, faint:true},
  {curves:[[cTotUp,cTotDn],[cEuUp,cEuDn],[cErUp,cErDn],[cTiUp,cTiDn],[cO48Up,cO48Dn],[cO8Up,cO8Dn]], names:etoNames,
   x0:57.3, x1:331, yb:[583.3,624.3,664.3,704.3,745,785,846.7], lx:221, ly:828, key6:8},
  {curves:[[dTotUp,dTotDn],[dEuUp,dEuDn],[dErUp,dErDn],[dZrUp,dZrDn],[dO48Up,dO48Dn],[dO8Up,dO8Dn]], names:ezoNames,
   x0:416, x1:674.3, yb:[31.7,70,108.3,145.7,183.3,221.7,279], lx:544, ly:263, key6:16},
  {curves:[[eTotUp,eTotDn],[eEuUp,eEuDn],[eErUp,eErDn],[eZrUp,eZrDn],[eO48Up,eO48Dn],[eO8Up,eO8Dn]], names:ezoNames,
   x0:399.3, x1:666, yb:[305,344.3,384.3,422.7,462,501,540.7], lx:557, ly:533, key6:7},
  {curves:[[fTotUp,fTotDn],[fEuUp,fEuDn],[fErUp,fErDn],[fZrUp,fZrDn],[fO48Up,fO48Dn],[fO8Up,fO8Dn]], names:ezoNames,
   x0:403.3, x1:669.3, yb:[593.3,631.7,670,709.3,748.3,787.3,846.7], lx:555, ly:830, key6:9}
];

const RED = "#93344f", BLUE = "#1f2b7a", ZERO = "#7d8787";
const SERIF = "'Liberation Serif','DejaVu Serif',serif";
const chart = document.getElementById("chart");
const mL = 40, mR = 6, mT = 6;
const full = arr => [[-8,0], ...arr, [8,0]];

panelLayout.forEach(p => {
  const w = p.x1 - p.x0;
  p.curves.forEach(([up, dn], i) => {
    const h = p.yb[i+1] - p.yb[i];
    const bottom = i === 5;
    const mB = bottom ? 22 : 6;
    const U = full(up), D = full(dn);
    const marks = [
      Plot.ruleX([0], {stroke: ZERO, strokeWidth: 1.3}),
      Plot.line(U, {x: d => d[0], y: d => d[1], stroke: RED, strokeWidth: 1.1, clip: true}),
      Plot.line(D, {x: d => d[0], y: d => d[1], stroke: BLUE, strokeWidth: 1.1, clip: true}),
      Plot.axisY(yTicks[i], {tickSize: 0, tickPadding: 6, fontSize: 9,
        tickFormat: i === 0 ? d => String(d) : d => d.toFixed(1)})
    ];
    if (bottom) {
      marks.push(Plot.axisX(energyTicks, {tickSize: 0, tickPadding: p.faint ? 3 : 4,
        fontSize: p.faint ? 5 : 9, fill: p.faint ? "#b5b5b5" : "#111", tickFormat: d => String(d)}));
      marks.push(Plot.tickX(innerTicks, {x: d => d, insetTop: h - 3, stroke: "#111"}));
    }
    marks.push(Plot.frame({stroke: "#111", strokeWidth: 1.5}));
    const svg = Plot.plot({
      width: w + mL + mR, height: h + mT + mB,
      marginLeft: mL, marginRight: mR, marginTop: mT, marginBottom: mB,
      style: {background: "transparent", overflow: "visible", fontFamily: SERIF, fontSize: "9px", color: "#111"},
      x: bottom ? {domain: [-8, 8]} : {domain: [-8, 8], axis: null},
      y: {domain: yDomains[i]},
      marks
    });
    svg.style.left = (p.x0 - mL) + "px";
    svg.style.top = (p.yb[i] - mT) + "px";
    // key label (gnuplot style) with subscripts
    const ky = mT + (i === 5 ? p.key6 : 9);
    const s = d3.select(svg);
    const t = s.append("text").attr("x", mL + w - 20).attr("y", ky + 3.2)
      .attr("text-anchor", "end").attr("font-family", SERIF).attr("font-size", 9.5).attr("fill", "#111");
    p.names[i].split("|").forEach((part, k) => {
      if (k % 2 === 1) t.append("tspan").attr("font-size", 7).attr("dy", 2.5).text(part);
      else t.append("tspan").attr("dy", k === 0 ? 0 : -2.5).text(part);
    });
    s.append("line").attr("x1", mL + w - 15).attr("x2", mL + w - 11).attr("y1", ky).attr("y2", ky)
      .attr("stroke", RED).attr("stroke-width", 1.3);
    chart.appendChild(svg);
  });
});

// ---------- overlay texts ----------
const ov = d3.select(chart).append("svg").attr("width", 680).attr("height", 911)
  .style("left", "0px").style("top", "0px").style("pointer-events", "none")
  .attr("font-family", SERIF).attr("font-weight", "bold").attr("fill", "#111");
ov.append("text").attr("x", 206).attr("y", 22).attr("text-anchor", "middle").attr("font-size", 26).text("Eu-ETO");
ov.append("text").attr("x", 551).attr("y", 22).attr("text-anchor", "middle").attr("font-size", 26).text("Eu-EZO");
panelLayout.forEach((p, k) => {
  ov.append("text").attr("x", p.lx).attr("y", p.ly).attr("text-anchor", "middle").attr("font-size", 31).text(panelLetters[k]);
});
const yl = ov.append("text").attr("transform", "translate(35,444) rotate(-90)").attr("text-anchor", "middle")
  .attr("font-size", 40).attr("textLength", 340).attr("lengthAdjust", "spacingAndGlyphs");
yl.append("tspan").text("Density of States (eV");
yl.append("tspan").attr("font-size", 24).attr("dy", -14).text("-1");
yl.append("tspan").attr("dy", 14).text(" states");
yl.append("tspan").attr("font-size", 24).attr("dy", -14).text("-1");
yl.append("tspan").attr("dy", 14).text(")");
[[145, 125], [486, 128]].forEach(([x, len]) => {
  const xt = ov.append("text").attr("x", x).attr("y", 898).attr("font-size", 28)
    .attr("textLength", len).attr("lengthAdjust", "spacingAndGlyphs");
  xt.append("tspan").text("E-E");
  xt.append("tspan").attr("font-size", 19).attr("dy", 6).text("F");
  xt.append("tspan").attr("dy", -6).text(" (eV)");
});
</script></body></html>
